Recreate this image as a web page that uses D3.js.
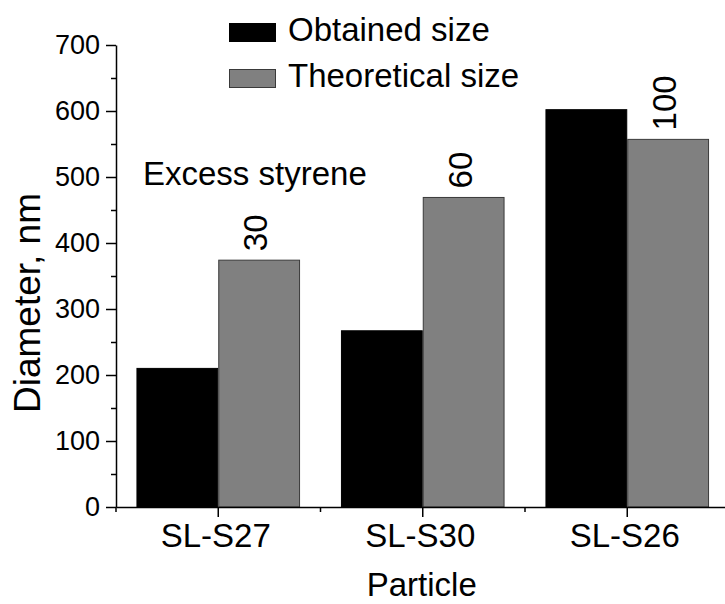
<!DOCTYPE html>
<html>
<head>
<meta charset="utf-8">
<script src="https://cdn.jsdelivr.net/npm/d3@7"></script>
<style>
  html, body { margin: 0; padding: 0; background: #fff; }
  svg { display: block; }
  text { font-family: "Liberation Sans", Arial, Helvetica, sans-serif; fill: #000; }
</style>
</head>
<body>
<svg id="chart" width="725" height="604"></svg>
<script>
const categories = ["SL-S27", "SL-S30", "SL-S26"];
const seriesNames = ["Obtained size", "Theoretical size"];
const obtained = [210, 267, 602];
const theoretical = [374, 469, 557];
const excessStyrene = [30, 60, 100];
const yMajorTicks = [0, 100, 200, 300, 400, 500, 600, 700];
const yMinorTicks = [50, 150, 250, 350, 450, 550, 650];

(function () {
const svg = d3.select("#chart");
const colors = { "Obtained size": "#000000", "Theoretical size": "#808080" };
const strokes = { "Obtained size": "#000000", "Theoretical size": "#3a3a3a" };

const pLeft = 116, pRight = 729.5, pTop = 45, pBottom = 507;
const y = d3.scaleLinear().domain([0, 700]).range([pBottom, pTop]);
const x = d3.scaleBand().domain(categories).range([pLeft, pRight]).paddingInner(0.2).paddingOuter(0.1);
const x1 = d3.scaleBand().domain(seriesNames).range([0, x.bandwidth()]).padding(0);

const rows = categories.map((c, i) => ({ cat: c, vals: [
  { s: seriesNames[0], v: obtained[i] },
  { s: seriesNames[1], v: theoretical[i] }
], ex: excessStyrene[i] }));

// bars
const g = svg.append("g");
g.selectAll("g.grp").data(rows).join("g")
  .attr("transform", d => `translate(${x(d.cat)},0)`)
  .selectAll("rect").data(d => d.vals).join("rect")
  .attr("x", d => x1(d.s) + 0.5)
  .attr("y", d => y(d.v))
  .attr("width", x1.bandwidth() - 1)
  .attr("height", d => y(0) - y(d.v))
  .attr("fill", d => colors[d.s])
  .attr("stroke", d => strokes[d.s])
  .attr("stroke-width", 1);

// excess labels above theoretical bars
g.selectAll("text.ex").data(rows).join("text")
  .attr("class", "ex")
  .attr("transform", d => `translate(${x(d.cat) + x1(seriesNames[1]) + x1.bandwidth() / 2 - 3.5},${y(d.vals[1].v) - 9}) rotate(-90)`)
  .attr("dy", "0.35em")
  .attr("text-anchor", "start")
  .style("font-size", "33px")
  .text(d => d.ex);

// y axis
const yAxis = svg.append("g").attr("transform", `translate(${pLeft},0)`)
  .call(d3.axisLeft(y).tickValues(yMajorTicks).tickSize(10).tickSizeOuter(0).tickPadding(6));
yAxis.selectAll("text").style("font-size", "27px").attr("dy", "0.3em");
const yMinor = svg.append("g").attr("transform", `translate(${pLeft},0)`)
  .call(d3.axisLeft(y).tickValues(yMinorTicks).tickSize(5).tickSizeOuter(0).tickFormat(""));
yMinor.select(".domain").remove();

// x axis
const xAxis = svg.append("g").attr("transform", `translate(0,${pBottom})`)
  .call(d3.axisBottom(x).tickSize(10).tickSizeOuter(0).tickPadding(7));
xAxis.selectAll("text").style("font-size", "33px").attr("dx", "-2.5");
const bounds = [pLeft, ...categories.slice(1).map(c => x(c) - x.step() * x.paddingInner() / 2), pRight];
const xMinor = svg.append("g").attr("transform", `translate(0,${pBottom})`);
xMinor.selectAll("line").data(bounds).join("line")
  .attr("x1", d => d).attr("x2", d => d).attr("y1", 0).attr("y2", 5)
  .attr("stroke", "#000").attr("stroke-width", 1.5);

svg.selectAll(".domain").attr("stroke", "#000").attr("stroke-width", 1.5);
svg.selectAll(".tick line").attr("stroke", "#000").attr("stroke-width", 1.5);

// axis titles
svg.append("text").attr("x", (pLeft + pRight) / 2 - 1).attr("y", 596)
  .attr("text-anchor", "middle").style("font-size", "33px").text("Particle");
svg.append("text").attr("transform", "translate(40,303) rotate(-90)")
  .attr("text-anchor", "middle").style("font-size", "37px").text("Diameter, nm");

// annotation
svg.append("text").attr("x", 143).attr("y", 185).style("font-size", "33px").text("Excess styrene");

// legend
const leg = svg.append("g");
seriesNames.forEach((s, i) => {
  const yy = 23 + i * 46;
  leg.append("rect").attr("x", 229.5).attr("y", yy + 0.5).attr("width", 46).attr("height", 18)
    .attr("fill", colors[s]).attr("stroke", strokes[s]).attr("stroke-width", 1);
  leg.append("text").attr("x", 288).attr("y", yy + 18).style("font-size", "33px").text(s);
});
})();
</script>
</body>
</html>
